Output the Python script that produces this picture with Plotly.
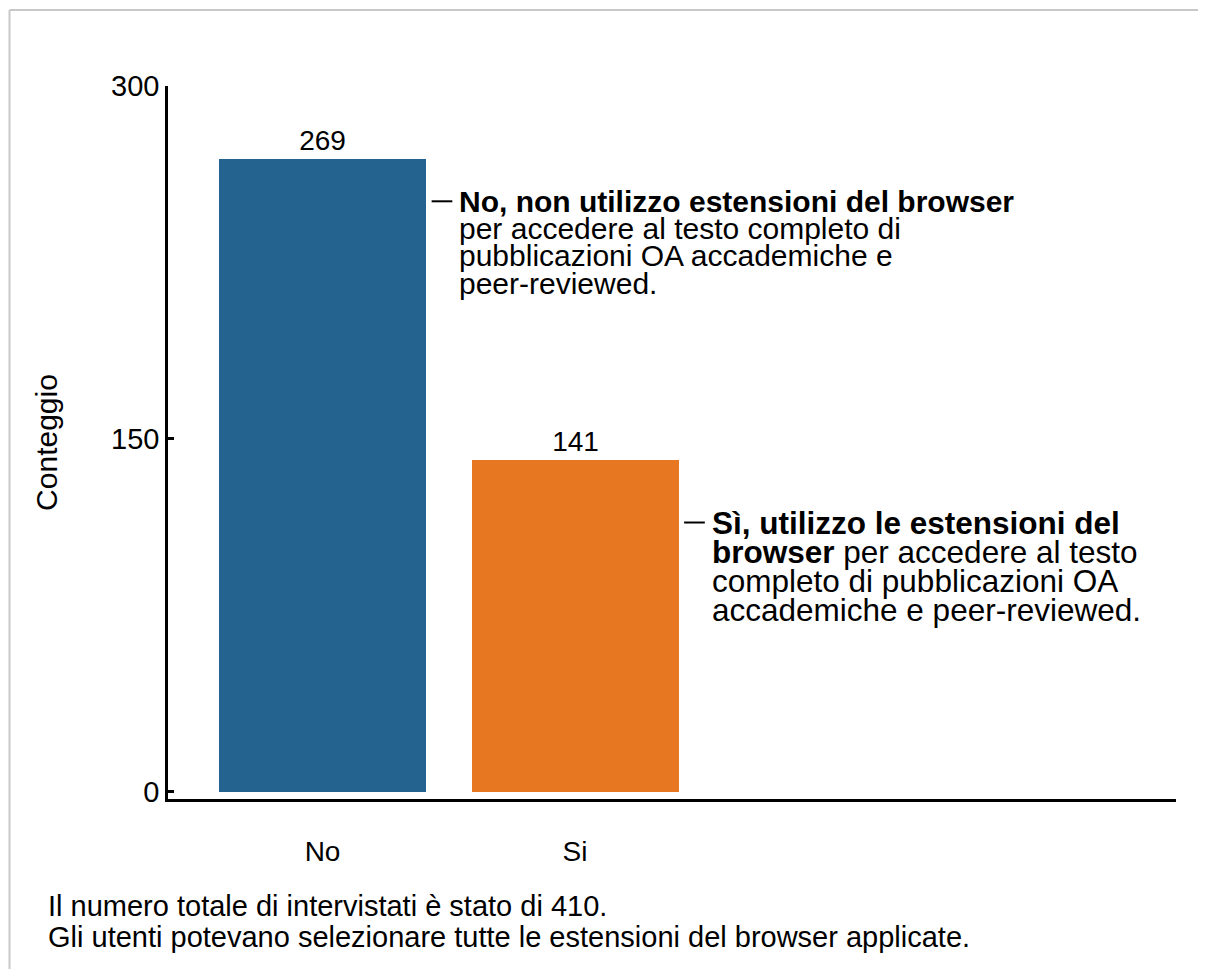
import plotly.graph_objects as go

categories = ["No", "Si"]
counts = [269, 141]
bar_colors = ["#246390", "#e87722"]
y_ticks = [0, 150, 300]
y_title = "Conteggio"

note_no = [
    "<b>No, non utilizzo estensioni del browser</b>",
    "per accedere al testo completo di",
    "pubblicazioni OA accademiche e",
    "peer-reviewed.",
]
note_si = [
    "<b>Sì, utilizzo le estensioni del</b>",
    "<b>browser</b> per accedere al testo",
    "completo di pubblicazioni OA",
    "accademiche e peer-reviewed.",
]
footnotes = [
    "Il numero totale di intervistati è stato di 410.",
    "Gli utenti potevano selezionare tutte le estensioni del browser applicate.",
]

FONT = "Liberation Sans, Arial, sans-serif"
BAR_W = 0.82
W, H = 1198, 961
L, R, T, B = 160, 30, 78, 170
PW, PH = W - L - R, H - T - B

fig = go.Figure()
fig.add_trace(go.Bar(
    x=list(range(len(categories))),
    y=counts,
    width=BAR_W,
    marker=dict(color=bar_colors, line=dict(width=0)),
    text=[str(v) for v in counts],
    textposition="outside",
    textfont=dict(size=28, color="black", family=FONT),
    cliponaxis=False,
    hoverinfo="skip",
))

annotations = []
shapes = []


def add_note(idx, lines, y_val, size, spacing):
    x_text = idx + BAR_W / 2 + 0.123
    for k, line in enumerate(lines):
        annotations.append(dict(
            x=x_text, y=y_val, xref="x", yref="y",
            xanchor="left", yanchor="middle",
            yshift=-k * spacing,
            text=line, showarrow=False,
            font=dict(size=size, color="black", family=FONT),
        ))
    shapes.append(dict(
        type="line", xref="x", yref="y",
        x0=idx + BAR_W / 2 + 0.022, x1=idx + BAR_W / 2 + 0.104,
        y0=y_val, y1=y_val,
        line=dict(color="black", width=2),
    ))


add_note(0, note_no, counts[0] - 18, 30, 27.3)
add_note(1, note_si, counts[1] - 26.5, 31.5, 29.3)

for k, t in enumerate(footnotes):
    annotations.append(dict(
        x=0, y=0, xref="paper", yref="paper",
        xanchor="left", yanchor="middle",
        xshift=-122, yshift=-107 - k * 31,
        text=t, showarrow=False,
        font=dict(size=29, color="black", family=FONT),
    ))

# outer light border (top and left edges)
bx0 = -(L - 1.5) / PW
by1 = 1 + (T - 2) / PH
shapes.append(dict(
    type="line", xref="paper", yref="paper",
    x0=bx0, x1=1 + (R + 20) / PW, y0=by1, y1=by1,
    line=dict(color="#c8c8c8", width=2), layer="below",
))
shapes.append(dict(
    type="line", xref="paper", yref="paper",
    x0=bx0, x1=bx0, y0=-(B + 20) / PH, y1=by1,
    line=dict(color="#c8c8c8", width=2), layer="below",
))

fig.update_layout(
    width=W, height=H,
    margin=dict(l=L, r=R, t=T, b=B),
    paper_bgcolor="white", plot_bgcolor="white",
    showlegend=False,
    font=dict(family=FONT, color="black", size=29),
    annotations=annotations,
    shapes=shapes,
    bargap=0,
)
fig.update_xaxes(
    range=[-0.612, 3.38],
    tickvals=list(range(len(categories))), ticktext=categories,
    tickfont=dict(size=28, family=FONT, color="black"),
    showline=True, linecolor="black", linewidth=2.5,
    ticks="", showgrid=False, zeroline=False,
    ticklabelstandoff=26,
)
fig.update_yaxes(
    range=[-3, 300],
    tickvals=y_ticks,
    tickfont=dict(size=29, family=FONT, color="black"),
    showline=True, linecolor="black", linewidth=2.5,
    ticks="inside", ticklen=6, tickwidth=2.5, tickcolor="black",
    showgrid=False, zeroline=False,
    title=dict(text=y_title, font=dict(size=30, family=FONT, color="black"), standoff=45),
)

fig.write_html("out.html")
